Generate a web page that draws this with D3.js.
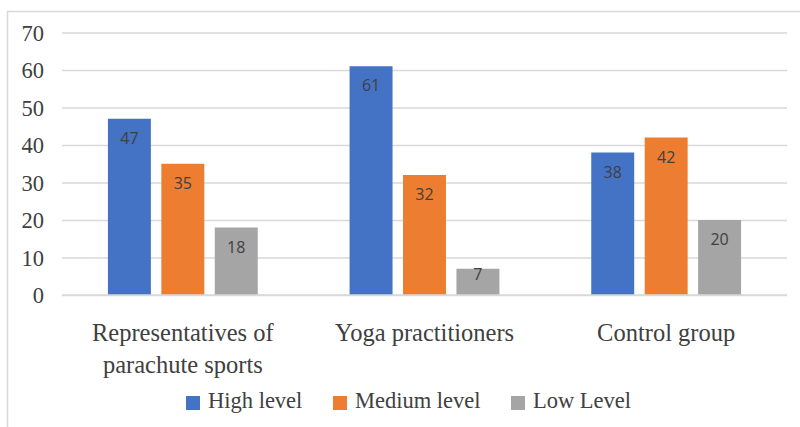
<!DOCTYPE html>
<html><head><meta charset="utf-8">
<script src="https://cdn.jsdelivr.net/npm/d3@7"></script>
<style>html,body{margin:0;padding:0;background:#fff;}svg{display:block;}</style>
</head><body>
<svg id="chart" width="800" height="427"></svg>
<script>
const categories = [["Representatives of","parachute sports"],["Yoga practitioners"],["Control group"]];
const categoryKeys = ["Representatives of parachute sports","Yoga practitioners","Control group"];
const seriesNames = ["High level","Medium level","Low Level"];
const highLevel = [47, 61, 38];
const mediumLevel = [35, 32, 42];
const lowLevel = [18, 7, 20];
const yTicks = [0,10,20,30,40,50,60,70];
const colors = ["#4472C4","#ED7D31","#A5A5A5"];

const seriesValues = [highLevel, mediumLevel, lowLevel];
const svg = d3.select("#chart");
const pLeft = 62, pRight = 787, pTop = 32.5, pBottom = 295;
const serif = "'Liberation Serif','Times New Roman',serif";

svg.append("rect").attr("x",7.5).attr("y",11.5).attr("width",820).attr("height",440)
  .attr("fill","none").attr("stroke","#D9D9D9").attr("stroke-width",1.5);

const y = d3.scaleLinear().domain([0,70]).range([pBottom, pTop]);
const x0 = d3.scaleBand().domain(categoryKeys).range([pLeft,pRight]).padding(0);
const g = x0.bandwidth();
const x1 = d3.scaleBand().domain(seriesNames).range([g*0.19, g*0.81]).paddingInner(0.196).paddingOuter(0);

// gridlines
const yAxis = d3.axisLeft(y).tickValues(yTicks).tickSize(-(pRight-pLeft)).tickPadding(18).tickFormat(d3.format("d"));
const ga = svg.append("g").attr("transform",`translate(${pLeft},0)`).call(yAxis);
ga.select(".domain").remove();
ga.selectAll(".tick line").attr("stroke","#D9D9D9").attr("stroke-width",1.5);
ga.selectAll(".tick text").attr("font-family",serif).attr("font-size","22.5px").attr("fill","#404040").attr("dy","0.34em");

// bars
const groups = svg.append("g").selectAll("g").data(categoryKeys).join("g")
  .attr("transform", d => `translate(${x0(d)},0)`);
groups.each(function(cat, ci){
  const gg = d3.select(this);
  seriesNames.forEach((s, si) => {
    const v = seriesValues[si][ci];
    gg.append("rect").attr("x", x1(s)).attr("y", y(v)).attr("width", x1.bandwidth())
      .attr("height", y(0)-y(v)).attr("fill", colors[si]);
    const h = y(0)-y(v);
    gg.append("text").attr("x", x1(s)+x1.bandwidth()/2)
      .attr("y", y(v) + (h < 40 ? 11.5 : 25))
      .attr("text-anchor","middle").attr("font-family","'Open Sans',sans-serif")
      .attr("font-size","16px").attr("fill","#404040").text(v);
  });
});

// baseline
svg.append("line").attr("x1",pLeft).attr("x2",pRight).attr("y1",y(0)).attr("y2",y(0))
  .attr("stroke","#D9D9D9").attr("stroke-width",1.5);

// category labels
categoryKeys.forEach((k, i) => {
  const t = svg.append("text").attr("text-anchor","middle").attr("font-family",serif)
    .attr("font-size","24.5px").attr("fill","#404040");
  categories[i].forEach((line, li) => {
    t.append("tspan").attr("x", x0(k)+g/2).attr("y", 341 + li*31.5).text(line);
  });
});

// legend
const legendX = [186, 333, 511];
seriesNames.forEach((s, i) => {
  svg.append("rect").attr("x", legendX[i]).attr("y", 396).attr("width",14).attr("height",14).attr("fill",colors[i]);
  svg.append("text").attr("x", legendX[i]+22).attr("y", 408).attr("font-family",serif)
    .attr("font-size","22.5px").attr("fill","#404040").text(s);
});
</script>
</body></html>
